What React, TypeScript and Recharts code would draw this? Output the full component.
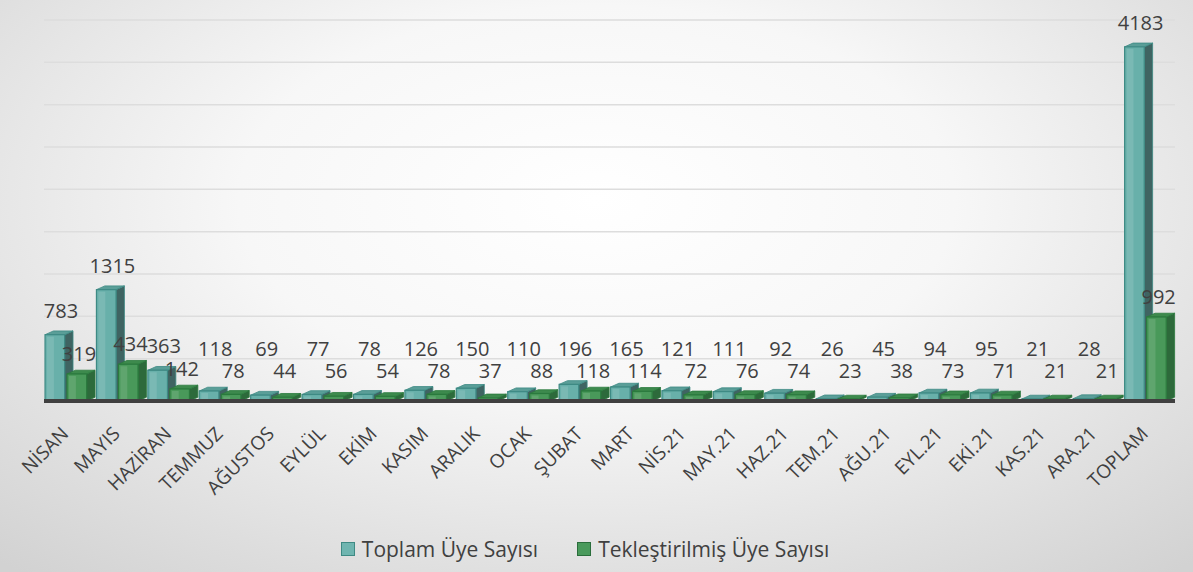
import React from "react";
import {
  BarChart,
  Bar,
  XAxis,
  YAxis,
  CartesianGrid,
  Legend,
  LabelList,
} from "recharts";

const months = [
  "NİSAN", "MAYIS", "HAZİRAN", "TEMMUZ", "AĞUSTOS", "EYLÜL", "EKİM", "KASIM",
  "ARALIK", "OCAK", "ŞUBAT", "MART", "NİS.21", "MAY.21", "HAZ.21", "TEM.21",
  "AĞU.21", "EYL.21", "EKİ.21", "KAS.21", "ARA.21", "TOPLAM",
];
const toplamUye = [
  783, 1315, 363, 118, 69, 77, 78, 126, 150, 110, 196, 165, 121, 111, 92, 26,
  45, 94, 95, 21, 28, 4183,
];
const teklesUye = [
  319, 434, 142, 78, 44, 56, 54, 78, 37, 88, 118, 114, 72, 76, 74, 23, 38, 73,
  71, 21, 21, 992,
];
const yTicks = [0, 500, 1000, 1500, 2000, 2500, 3000, 3500, 4000, 4500];

const data = months.map((ay, i) => ({
  ay,
  toplam: toplamUye[i],
  tekles: teklesUye[i],
}));

const FONT = "'Open Sans', sans-serif";

function makeShape(front: string, top: string, side: string, edge: string) {
  return function Shape3D(props: any) {
    const { x, y, width, height } = props;
    const depth = Math.min(9, width * 0.3);
    const dy = depth * 0.45;
    const fw = width - depth;
    const h = Math.max(height, 2);
    const yy = y + height - h;
    return (
      <g>
        <polygon
          points={`${x + fw},${yy} ${x + fw + depth},${yy - dy} ${x + fw + depth},${yy + h - dy} ${x + fw},${yy + h}`}
          fill={side}
          stroke={edge}
          strokeWidth={0.8}
        />
        <polygon
          points={`${x},${yy} ${x + fw},${yy} ${x + fw + depth},${yy - dy} ${x + depth},${yy - dy}`}
          fill={top}
          stroke={edge}
          strokeWidth={0.8}
        />
        <rect x={x} y={yy} width={fw} height={h} fill={front} stroke={edge} strokeWidth={1.2} />
        {h > 6 && (
          <rect x={x + 2} y={yy + 2} width={Math.max(fw * 0.35, 1)} height={h - 4} fill="#ffffff" opacity={0.12} />
        )}
      </g>
    );
  };
}

const ToplamShape = makeShape("#68b0aa", "#5a9e98", "#3f6462", "#3e8a84");
const TeklesShape = makeShape("#49995a", "#3d8a4d", "#2d6a3b", "#2b7a3e");

// Excel keeps small labels at a minimum height above the floor
function makeLabel(gapTop: number, minAbove: number, shift: number) {
  return function ValueLabel(props: any) {
    const { x, y, width, height, value } = props;
    const base = y + height;
    const ty = Math.min(y - gapTop, base - minAbove);
    return (
      <text
        x={x + width / 2 + shift}
        y={ty}
        textAnchor="middle"
        fontFamily={FONT}
        fontSize={20}
        fill="#404040"
      >
        {value}
      </text>
    );
  };
}

const ToplamLabel = makeLabel(17, 45, 2);
const TeklesLabel = makeLabel(13, 23, -2);

function MonthTick(props: any) {
  const { x, y, payload } = props;
  return (
    <g transform={`translate(${x},${y + 26})`}>
      <text
        transform="rotate(-45)"
        textAnchor="end"
        fontFamily={FONT}
        fontSize={19}
        fill="#404040"
      >
        {payload.value}
      </text>
    </g>
  );
}

function LegendBox() {
  const items = [
    { label: "Toplam Üye Sayısı", fill: "#6fb5b0", stroke: "#3e8a84" },
    { label: "Tekleştirilmiş Üye Sayısı", fill: "#4a9a5c", stroke: "#2b6e3c" },
  ];
  return (
    <div
      style={{
        display: "flex",
        justifyContent: "center",
        gap: 39,
        height: 30,
        alignItems: "center",
        fontFamily: FONT,
        fontSize: 21,
        color: "#404040",
      }}
    >
      {items.map((it) => (
        <span key={it.label} style={{ display: "flex", alignItems: "center" }}>
          <span
            style={{
              width: 12,
              height: 12,
              background: it.fill,
              border: `1.5px solid ${it.stroke}`,
              marginRight: 7,
              display: "inline-block",
            }}
          />
          {it.label}
        </span>
      ))}
    </div>
  );
}

export default function App() {
  return (
    <div
      style={{
        position: "absolute",
        left: 0,
        top: 0,
        width: 1193,
        height: 572,
        background:
          "radial-gradient(ellipse 75% 85% at 50% 35%, #ffffff 0%, #f7f7f7 40%, #dedede 80%, #d2d2d2 100%)",
      }}
    >
      <BarChart
        width={1193}
        height={572}
        data={data}
        margin={{ top: 20, right: 18, left: 44, bottom: 8 }}
        barCategoryGap="2%"
        barGap={-6}
      >
        <CartesianGrid horizontal vertical={false} stroke="#dddddd" strokeWidth={1.5} />
        <YAxis hide domain={[0, 4500]} ticks={yTicks} />
        <XAxis
          dataKey="ay"
          interval={0}
          height={133}
          tick={<MonthTick />}
          tickLine={false}
          axisLine={{ stroke: "#404040", strokeWidth: 4 }}
        />
        <Legend
          verticalAlign="bottom"
          content={<LegendBox />}
          wrapperStyle={{ left: 10, width: 1150 }}
        />
        <Bar dataKey="toplam" name="Toplam Üye Sayısı" shape={<ToplamShape />} isAnimationActive={false}>
          <LabelList dataKey="toplam" content={<ToplamLabel />} />
        </Bar>
        <Bar dataKey="tekles" name="Tekleştirilmiş Üye Sayısı" shape={<TeklesShape />} isAnimationActive={false}>
          <LabelList dataKey="tekles" content={<TeklesLabel />} />
        </Bar>
      </BarChart>
    </div>
  );
}
